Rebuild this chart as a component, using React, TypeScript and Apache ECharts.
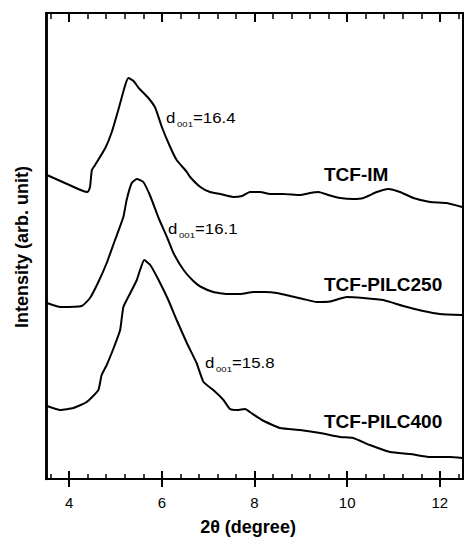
import React, { useEffect, useRef } from "react";
import * as echarts from "echarts";

// 2θ (degree) positions and intensities (arb. unit)
const imX = [3.52, 4.3, 4.4, 4.45, 4.49, 4.56, 4.78, 4.92, 5.06, 5.21, 5.28, 5.39, 5.5, 5.71, 5.86, 6.0, 6.18, 6.32, 6.54, 6.61, 6.83, 7.04, 7.26, 7.54, 7.73, 7.9, 8.12, 8.34, 8.62, 8.98, 9.2, 9.38, 9.63, 9.85, 10.13, 10.35, 10.64, 10.89, 11.14, 11.43, 11.79, 12.15, 12.48];
const imY = [304, 288, 287, 292, 309, 314, 331, 347, 369, 394, 401, 398, 391, 381, 371, 352, 332, 319, 307, 302, 292, 287, 285, 282, 283, 287, 287, 285, 285, 284, 286, 287, 283.5, 281, 280, 281, 287, 290, 287, 281, 277, 276, 272];

const p250X = [3.52, 3.81, 4.27, 4.45, 4.63, 4.81, 4.99, 5.17, 5.24, 5.35, 5.46, 5.6, 5.75, 5.93, 6.11, 6.25, 6.47, 6.68, 6.83, 7.11, 7.4, 7.69, 7.98, 8.23, 8.48, 8.77, 9.05, 9.34, 9.63, 9.99, 10.35, 10.78, 11.21, 11.64, 12.0, 12.48];
const p250Y = [176, 172, 173, 181, 197, 216, 239, 262, 279, 296, 300, 297, 283, 261, 242, 226, 209, 198, 192.5, 187, 185, 185, 187, 187, 186, 183, 180, 177, 177.5, 182, 181, 179, 173, 168, 165, 164];

const p400X = [3.52, 3.81, 4.09, 4.38, 4.63, 4.7, 4.81, 4.96, 5.1, 5.17, 5.32, 5.46, 5.53, 5.62, 5.75, 5.93, 6.14, 6.32, 6.54, 6.75, 6.9, 7.11, 7.33, 7.47, 7.62, 7.8, 7.9, 8.16, 8.55, 8.98, 9.42, 9.85, 10.13, 10.49, 10.93, 11.36, 11.79, 12.22, 12.48];
const p400Y = [73, 69, 71, 77, 89, 104, 114, 131, 149, 172, 186, 199, 209, 219, 214, 199, 179, 159, 136, 116, 97, 89, 79, 70, 69, 70, 67, 59, 51, 49, 46, 42, 41, 34, 27, 25, 22, 22, 21];

const xMajorTicks = [4, 6, 8, 10, 12];
const xMinorTicks = [3.6, 4.4, 4.8, 5.2, 5.6, 6.4, 6.8, 7.2, 7.6, 8.4, 8.8, 9.2, 9.6, 10.4, 10.8, 11.2, 11.6, 12.4];
const xMin = 3.5;
const xMax = 12.5;
const yMin = 0;
const yMax = 466;

const seriesNames = ["TCF-IM", "TCF-PILC250", "TCF-PILC400"];
const spacings = ["16.4", "16.1", "15.8"];

const FONT = "'Liberation Sans', Arial, Helvetica, sans-serif";
const INK = "#000";

function pairs(xs: number[], ys: number[]) {
  return xs.map((x, i) => [x, ys[i]]);
}

function dLabel(x: number, y: number, value: string) {
  return {
    type: "group",
    x,
    y,
    children: [
      { type: "text", x: 0, y: 0, scaleX: 1.2, style: { text: "d", font: `14px ${FONT}`, fill: INK, align: "left", verticalAlign: "middle" } },
      { type: "text", x: 11, y: 6, scaleX: 1.2, style: { text: "001", font: `8px ${FONT}`, fill: INK, align: "left", verticalAlign: "middle" } },
      { type: "text", x: 27, y: 0, scaleX: 1.2, style: { text: "=" + value, font: `14px ${FONT}`, fill: INK, align: "left", verticalAlign: "middle" } },
    ],
  };
}

export default function App() {
  const ref = useRef<HTMLDivElement>(null);
  useEffect(() => {
    document.body.style.margin = "0";
    if (!ref.current) return;
    const chart = echarts.init(ref.current, undefined, { renderer: "svg" });
    const xBase = { type: "value", min: xMin, max: xMax, splitLine: { show: false } };
    const noLine = { show: false, onZero: false };
    const line = (i: number, data: number[][]) => ({
      name: seriesNames[i],
      type: "line",
      data,
      showSymbol: false,
      smooth: 0.15,
      silent: true,
      lineStyle: { color: INK, width: 2 },
      itemStyle: { color: INK },
      xAxisIndex: 0,
      yAxisIndex: 0,
    });
    // frame and tick marks as segments through the chart's own scales (y unit = 1 px of plot height)
    const segs = (items: number[][][], width: number) => ({
      type: "lines",
      coordinateSystem: "cartesian2d",
      xAxisIndex: 0,
      yAxisIndex: 0,
      silent: true,
      clip: false,
      z: 4,
      polyline: false,
      lineStyle: { color: INK, width, opacity: 1, curveness: 0 },
      data: items.map((coords) => ({ coords })),
    });
    const frameSegs = [
      [[xMin, yMin], [xMax, yMin]],
      [[xMin, yMax], [xMax, yMax]],
      [[xMax, yMin], [xMax, yMax]],
    ];
    const leftSeg = [[[xMin, yMin], [xMin, yMax]]];
    const majorSegs = [
      ...xMajorTicks.map((v) => [[v, yMin - 8], [v, yMin + 8]]),
      ...xMajorTicks.map((v) => [[v, yMax], [v, yMax - 9]]),
    ];
    const minorSegs = [
      ...xMinorTicks.map((v) => [[v, yMin], [v, yMin + 5]]),
      ...xMinorTicks.map((v) => [[v, yMax], [v, yMax - 6]]),
    ];
    chart.setOption({
      animation: false,
      backgroundColor: "#fff",
      grid: { left: 46, right: 1, top: 13, bottom: 58 },
      xAxis: [
        {
          ...xBase,
          position: "bottom",
          axisLine: { show: true, onZero: false, lineStyle: { color: INK, width: 2 } },
          axisTick: { show: true, inside: true, length: 8, customValues: xMajorTicks, lineStyle: { color: INK, width: 2 } },
          axisLabel: { show: true, customValues: xMajorTicks, margin: 16, fontSize: 15, color: INK, fontFamily: FONT },
        },
        {
          ...xBase,
          position: "top",
          axisLine: { show: true, onZero: false, lineStyle: { color: INK, width: 2 } },
          axisTick: { show: true, inside: true, length: 9, customValues: xMajorTicks, lineStyle: { color: INK, width: 1.5 } },
          axisLabel: { show: false },
        },
      ],
      yAxis: [
        { type: "value", min: yMin, max: yMax, position: "left", axisLine: { show: true, onZero: false, lineStyle: { color: INK, width: 2.5 } }, axisTick: { show: false }, axisLabel: { show: false }, splitLine: { show: false } },
        { type: "value", min: yMin, max: yMax, position: "right", axisLine: { show: true, onZero: false, lineStyle: { color: INK, width: 2 } }, axisTick: { show: false }, axisLabel: { show: false }, splitLine: { show: false } },
      ],
      series: [
        line(0, pairs(imX, imY)),
        line(1, pairs(p250X, p250Y)),
        line(2, pairs(p400X, p400Y)),
        segs(frameSegs, 2),
        segs(leftSeg, 2.5),
        segs(majorSegs, 2),
        segs(minorSegs, 1.5),
      ],
      graphic: [
        { type: "text", x: 324, y: 174, style: { text: seriesNames[0], font: `bold 19px ${FONT}`, fill: INK, align: "left", verticalAlign: "middle" } },
        { type: "text", x: 324, y: 284.5, style: { text: seriesNames[1], font: `bold 19px ${FONT}`, fill: INK, align: "left", verticalAlign: "middle" } },
        { type: "text", x: 324, y: 421, style: { text: seriesNames[2], font: `bold 19px ${FONT}`, fill: INK, align: "left", verticalAlign: "middle" } },
        dLabel(166, 118, spacings[0]),
        dLabel(168, 229, spacings[1]),
        dLabel(205, 363, spacings[2]),
        { type: "text", x: 248, y: 527, style: { text: "2θ (degree)", font: `bold 18px ${FONT}`, fill: INK, align: "center", verticalAlign: "middle" } },
        { type: "text", x: 22, y: 247, rotation: Math.PI / 2, style: { text: "Intensity (arb. unit)", font: `bold 18px ${FONT}`, fill: INK, align: "center", verticalAlign: "middle" } },
      ],
    });
    return () => chart.dispose();
  }, []);
  return <div ref={ref} style={{ width: 464, height: 537 }} />;
}
